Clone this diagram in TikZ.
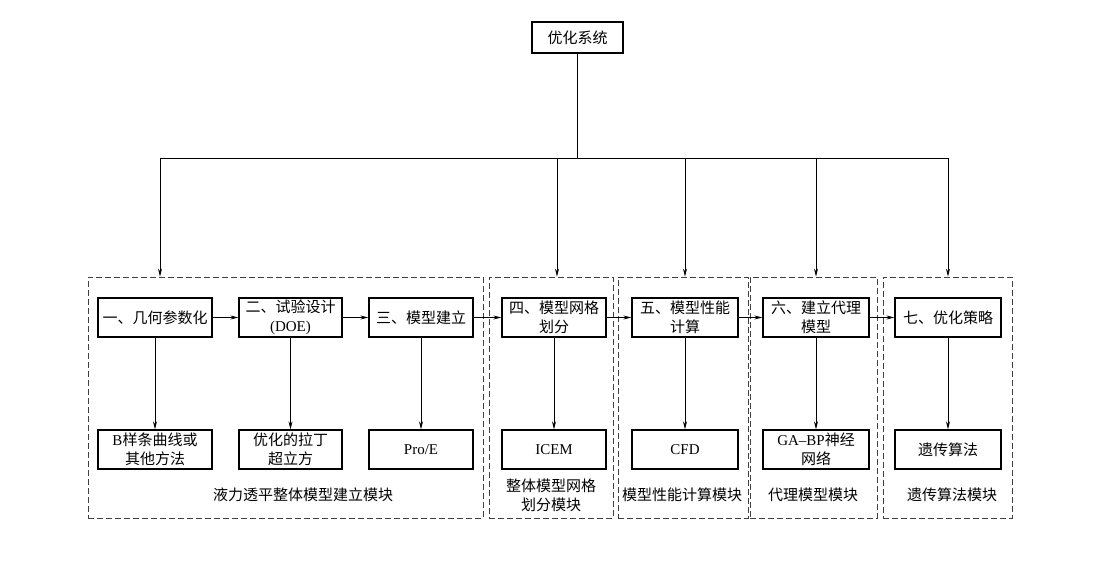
\documentclass[tikz,border=0pt]{standalone}
\usepackage{fontspec}
\setmainfont{Liberation Serif}
\newfontfamily\cjk{Noto Sans CJK SC}
\usetikzlibrary{arrows.meta}
\newcommand{\latn}[1]{{\rmfamily #1}}

\tikzset{every picture/.style={line width=0.8pt}}
\tikzset{
  box/.style={draw,line width=1.3pt,minimum height=39pt,inner sep=1pt,align=center,font=\cjk\fontsize{15}{19}\selectfont},
  grp/.style={draw=black!75,dash pattern=on 6pt off 3pt,inner sep=0pt},
  lbl/.style={align=center,font=\cjk\fontsize{15}{19}\selectfont},
  arr/.style={-{Stealth[length=8pt,width=4pt]}}
}

\begin{document}
\begin{tikzpicture}[x=10pt,y=10pt]
\useasboundingbox (0,0) rectangle (111,56.1);
% 顶层
\node[box,minimum width=91pt,minimum height=31pt] (sys) at (57.75,52.35) {优化系统};
\coordinate (bus) at (57.75,40.3);
% 虚线模块框
\node[grp,minimum width=395pt,minimum height=241pt] (g1) at (28.55,16.35) {};
\node[grp,minimum width=124pt,minimum height=241pt] (g2) at (55.1,16.35) {};
\node[grp,minimum width=130pt,minimum height=241pt] (g3) at (68.3,16.35) {};
\node[grp,minimum width=127pt,minimum height=241pt] (g4) at (81.35,16.35) {};
\node[grp,minimum width=129pt,minimum height=241pt] (g5) at (94.75,16.35) {};
% 步骤
\node[box,minimum width=114pt] (s1) at (15.5,24.35) {一、几何参数化};
\node[box,minimum width=103pt] (s2) at (29.05,24.35) {二、试验设计\\\latn{(DOE)}};
\node[box,minimum width=104pt] (s3) at (42.1,24.35) {三、模型建立};
\node[box,minimum width=104pt] (s4) at (55.4,24.35) {四、模型网格\\划分};
\node[box,minimum width=106pt] (s5) at (68.5,24.35) {五、模型性能\\计算};
\node[box,minimum width=106pt] (s6) at (81.6,24.35) {六、建立代理\\模型};
\node[box,minimum width=106pt] (s7) at (94.8,24.35) {七、优化策略};
% 方法
\node[box,minimum width=114pt] (m1) at (15.5,11.15) {\latn{B}样条曲线或\\其他方法};
\node[box,minimum width=103pt] (m2) at (29.05,11.15) {优化的拉丁\\超立方};
\node[box,minimum width=104pt] (m3) at (42.1,11.15) {\latn{Pro/E}};
\node[box,minimum width=104pt] (m4) at (55.4,11.15) {\latn{ICEM}};
\node[box,minimum width=106pt] (m5) at (68.5,11.15) {\latn{CFD}};
\node[box,minimum width=106pt] (m6) at (81.6,11.15) {\latn{GA--BP}神经\\网络};
\node[box,minimum width=106pt] (m7) at (94.8,11.15) {遗传算法};
% 模块名
\node[lbl] (l1) at (30.3,6.6) {液力透平整体模型建立模块};
\node[lbl] (l2) at (55.1,6.55) {整体模型网格\\划分模块};
\node[lbl] (l3) at (68.2,6.6) {模型性能计算模块};
\node[lbl] (l4) at (81.3,6.6) {代理模型模块};
\node[lbl] (l5) at (95.2,6.6) {遗传算法模块};
% 连线
\draw (sys) -- (bus);
\draw ([xshift=5pt]s1.north |- bus) -- (s7.north |- bus);
\draw[arr] ([xshift=5pt]s1.north |- bus) -- ([xshift=5pt]s1.north |- g1.north);
\draw[arr] ([xshift=3pt]s4.north |- bus) -- ([xshift=3pt]s4.north |- g2.north);
\foreach \s/\g in {5/3,6/4,7/5}
  \draw[arr] (s\s.north |- bus) -- (s\s.north |- g\g.north);
\foreach \a/\b in {1/2,2/3,3/4,4/5,5/6,6/7}
  \draw[arr] (s\a) -- (s\b);
\foreach \i in {1,...,7}
  \draw[arr] (s\i) -- (m\i);
\end{tikzpicture}
\end{document}
